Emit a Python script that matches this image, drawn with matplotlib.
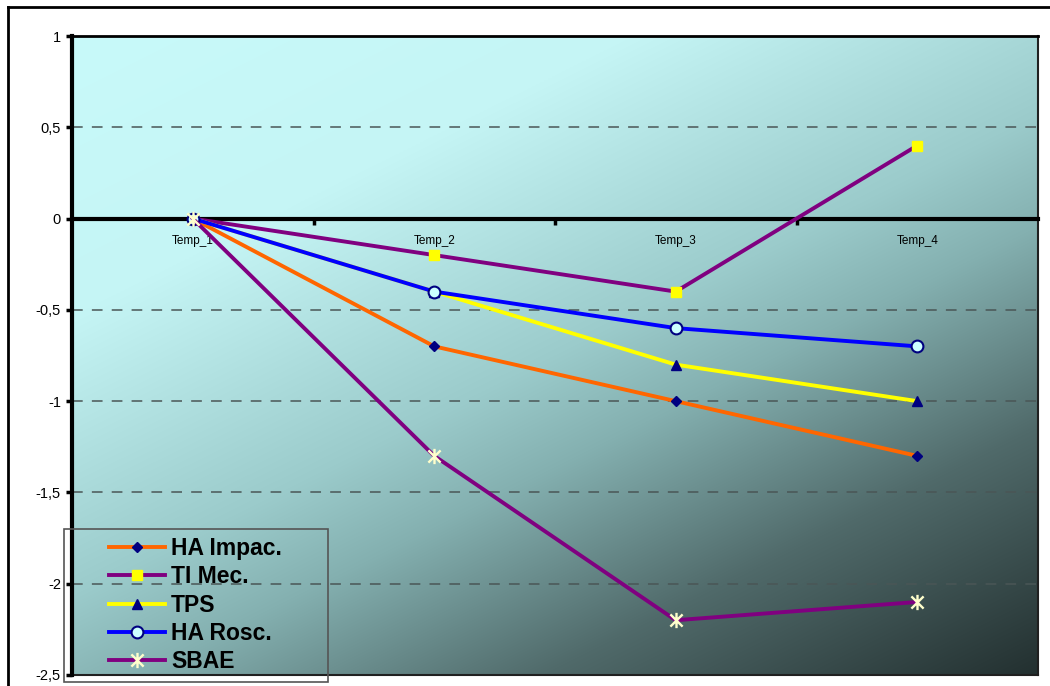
import numpy as np
import matplotlib
matplotlib.use("Agg")
import matplotlib.pyplot as plt
from matplotlib.path import Path
from matplotlib.lines import Line2D
from matplotlib.patches import Rectangle

plt.rcParams['font.family'] = ['Liberation Sans', 'DejaVu Sans']

# ---- data ----
categories = ["Temp_1", "Temp_2", "Temp_3", "Temp_4"]
ha_impac = [0, -0.7, -1.0, -1.3]
ti_mec = [0, -0.2, -0.4, 0.4]
tps = [0, -0.4, -0.8, -1.0]
ha_rosc = [0, -0.4, -0.6, -0.7]
sbae = [0, -1.3, -2.2, -2.1]
series_names = ["HA Impac.", "TI Mec.", "TPS", "HA Rosc.", "SBAE"]
y_ticks = [1, 0.5, 0, -0.5, -1, -1.5, -2, -2.5]
y_tick_labels = ["1", "0,5", "0", "-0,5", "-1", "-1,5", "-2", "-2,5"]

W, H, DPI = 1050, 686, 100
fig = plt.figure(figsize=(W / DPI, H / DPI), dpi=DPI, facecolor="white")

# plot area in pixel geometry
px_l, px_r, px_t, px_b = 72, 1038, 36, 675
ax = fig.add_axes([px_l / W, 1 - px_b / H, (px_r - px_l) / W, (px_b - px_t) / H])

x = np.arange(len(categories))
xmin, xmax = -0.5, len(categories) - 0.5
ymin, ymax = -2.5, 1.0

# diagonal gradient fill of the plot area
gh, gw = 300, 460
u = np.linspace(0, 1, gw)[None, :]
v = np.linspace(0, 1, gh)[:, None]
t = 0.43 * u + 0.57 * v
stops = [0, 0.25, 0.5, 0.6, 0.78, 1.0]
r_st = [200, 197, 155, 132, 80, 35]
g_st = [250, 245, 203, 176, 106, 48]
b_st = [250, 245, 203, 176, 106, 48]
img = np.dstack([np.interp(t, stops, r_st), np.interp(t, stops, g_st),
                 np.interp(t, stops, b_st)]) / 255.0
ax.imshow(img, extent=(xmin, xmax, ymin, ymax), origin="upper",
          aspect="auto", interpolation="bilinear", zorder=0)

# dashed gridlines
for yv in [0.5, -0.5, -1, -1.5, -2]:
    ax.axhline(yv, color="#4a5656", lw=1.1, ls=(0, (7, 6)), zorder=1)

# star marker: vertical stroke plus an X
star = Path([(0, -1), (0, 1), (-0.8, -0.8), (0.8, 0.8), (-0.8, 0.8), (0.8, -0.8)],
            [Path.MOVETO, Path.LINETO, Path.MOVETO, Path.LINETO, Path.MOVETO, Path.LINETO])

lw = 2.8
ax.plot(x, ha_impac, color="#FF6600", lw=lw, marker="D", ms=5,
        mfc="#000080", mec="#000080", label=series_names[0], zorder=3)
ax.plot(x, ti_mec, color="#800080", lw=lw, marker="s", ms=7,
        mfc="#FFFF00", mec="#FFFF00", label=series_names[1], zorder=3)
ax.plot(x, tps, color="#FFFF00", lw=lw, marker="^", ms=7.5,
        mfc="#000080", mec="#000080", label=series_names[2], zorder=3)
ax.plot(x, ha_rosc, color="#0000FF", lw=lw, marker="o", ms=8.5,
        mfc="#CCFFFF", mec="#000080", mew=1.5, label=series_names[3], zorder=3)
ax.plot(x, sbae, color="#800080", lw=lw, marker=star, ms=11,
        mfc="#FFFFCC", mec="#FFFFCC", mew=1.7, label=series_names[4], zorder=3)

ax.set_xlim(xmin, xmax)
ax.set_ylim(ymin, ymax)

# y axis
ax.set_yticks(y_ticks)
ax.set_yticklabels(y_tick_labels, fontsize=10.5)
ax.tick_params(axis="y", direction="out", length=4, width=2.5, pad=4, color="black")

# x axis crosses at zero
ax.spines["bottom"].set_position(("data", 0))
ax.spines["bottom"].set_linewidth(3)
ax.spines["bottom"].set_zorder(2.5)
ax.set_xticks([0.5, 1.5, 2.5])
ax.set_xticklabels([])
ax.set_xticks(x, minor=True)
ax.set_xticklabels(categories, minor=True, fontsize=8.5)
ax.tick_params(axis="x", which="major", direction="out", length=4, width=2.5)
ax.tick_params(axis="x", which="minor", length=0, pad=12)

ax.spines["left"].set_linewidth(3)
ax.spines["left"].set_zorder(2.5)
ax.spines["top"].set_linewidth(2)
ax.spines["right"].set_linewidth(1.5)
ax.spines["right"].set_color("#202020")

# bottom border of the plot area
ax.add_line(Line2D([0, 1], [0, 0], transform=ax.transAxes, color="#202020",
                   lw=1.5, clip_on=False, zorder=2))

# legend (transparent, framed separately)
leg = fig.legend(loc="upper left", bbox_to_anchor=(109 / W, 1 - 537 / H),
                 frameon=False, prop={"weight": "bold", "size": 16.5},
                 handlelength=2.44, handletextpad=0.26, labelspacing=0.23,
                 borderpad=0, borderaxespad=0)
fig.add_artist(Rectangle((64 / W, 1 - 682 / H), (328 - 64) / W, (682 - 529) / H,
                         transform=fig.transFigure, fill=False,
                         edgecolor="#555555", lw=1.2, zorder=5))

# outer chart frame
fig.add_artist(Line2D([8 / W, 8 / W], [0, 1 - 7 / H], transform=fig.transFigure,
                      color="black", lw=2))
fig.add_artist(Line2D([8 / W, 1], [1 - 7 / H, 1 - 7 / H], transform=fig.transFigure,
                      color="black", lw=2))

fig.savefig("out.png", dpi=DPI, facecolor="white")
